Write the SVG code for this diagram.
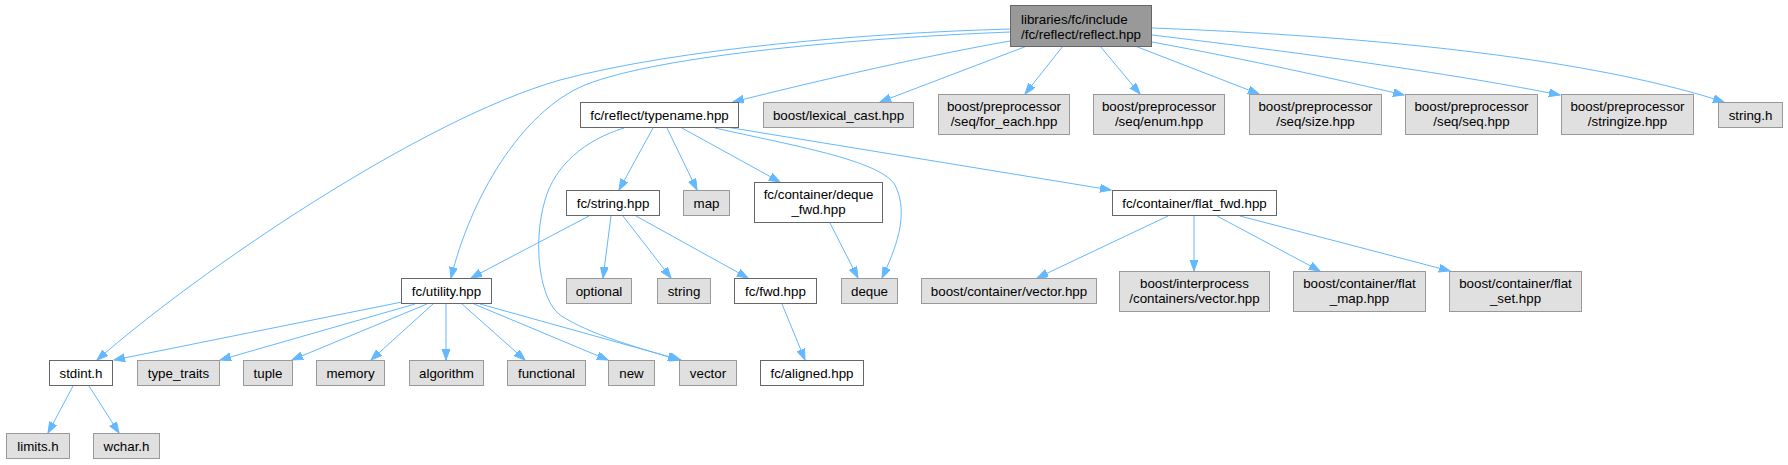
<svg xmlns="http://www.w3.org/2000/svg" width="1788" height="465" viewBox="0 0 1788 465">
<defs>
<marker id="ah" markerWidth="12" markerHeight="9" refX="11" refY="4" orient="auto" markerUnits="userSpaceOnUse">
<path d="M0,0 L11,4 L0,8 z" fill="#63B8FF" stroke="#63B8FF" stroke-width="1"/>
</marker>
<style>
.root{fill:#999999;stroke:#666666;stroke-width:1}
.int{fill:#FFFFFF;stroke:#666666;stroke-width:1}
.ext{fill:#E0E0E0;stroke:#999999;stroke-width:1}
text{font-family:"Liberation Sans",Arial,Helvetica,sans-serif;font-size:13.33px;fill:#000000;text-anchor:middle}
.l{text-anchor:start}
#edges path{fill:none;stroke:#63B8FF;stroke-width:1;marker-end:url(#ah)}
</style>
</defs>
<rect width="1788" height="465" fill="#FFFFFF"/>
<g id="edges">
<path d="M1010,29 C870,33 680,48 560,80 C420,120 200,270 97,360"/>
<path d="M1010,32 C860,38 660,55 585,85 C520,112 470,200 451,278"/>
<path d="M1010,41 C930,55 820,80 733,102"/>
<path d="M1027,46 L880,102"/>
<path d="M1063,46 L1025,94"/>
<path d="M1100,46 L1140,94"/>
<path d="M1135,46 L1259,94"/>
<path d="M1152,42 C1250,60 1340,80 1404,95"/>
<path d="M1152,35 C1320,55 1460,75 1560,95"/>
<path d="M1152,28 C1420,38 1610,65 1724,102"/>
<path d="M653,128 L619,190"/>
<path d="M667,128 L697,190"/>
<path d="M682,128 L780,182"/>
<path d="M715,128 C790,145 880,160 895,185 C910,215 895,250 882,278"/>
<path d="M726,127 L1111,190"/>
<path d="M624,128 C585,140 555,165 545,200 C532,245 540,300 560,315 C590,335 640,348 679,360"/>
<path d="M589,216 L471,278"/>
<path d="M611,216 L603,278"/>
<path d="M623,216 L671,278"/>
<path d="M636,216 L748,278"/>
<path d="M830,223 L858,278"/>
<path d="M782,304 L805,360"/>
<path d="M1168,216 L1037,278"/>
<path d="M1194,216 L1194,271"/>
<path d="M1217,216 L1320,271"/>
<path d="M1240,216 L1450,271"/>
<path d="M402,302 L114,360"/>
<path d="M415,304 L220,360"/>
<path d="M427,304 L292,360"/>
<path d="M433,304 L371,360"/>
<path d="M446,304 L446,360"/>
<path d="M462,304 L525,360"/>
<path d="M474,304 L608,360"/>
<path d="M480,304 L681,360"/>
<path d="M73,386 L48,433"/>
<path d="M89,386 L119,433"/>
</g>
<g id="n_root"><rect class="root" x="1010.5" y="5.5" width="141" height="41"/><text class="l" x="1021" y="23.5">libraries/fc/include</text><text class="l" x="1021" y="38.5">/fc/reflect/reflect.hpp</text></g>
<g id="n_typename"><rect class="int" x="580.5" y="102.5" width="158" height="25"/><text x="659.5" y="119.5">fc/reflect/typename.hpp</text></g>
<g id="n_lexical"><rect class="ext" x="763.5" y="102.5" width="150" height="25"/><text x="838.5" y="119.5">boost/lexical_cast.hpp</text></g>
<g id="n_foreach"><rect class="ext" x="938.5" y="94.5" width="131" height="40"/><text x="1004" y="111">boost/preprocessor</text><text x="1004" y="126">/seq/for_each.hpp</text></g>
<g id="n_enum"><rect class="ext" x="1093.5" y="94.5" width="131" height="40"/><text x="1159" y="111">boost/preprocessor</text><text x="1159" y="126">/seq/enum.hpp</text></g>
<g id="n_size"><rect class="ext" x="1249.5" y="94.5" width="132" height="40"/><text x="1315.5" y="111">boost/preprocessor</text><text x="1315.5" y="126">/seq/size.hpp</text></g>
<g id="n_seq"><rect class="ext" x="1405.5" y="94.5" width="132" height="40"/><text x="1471.5" y="111">boost/preprocessor</text><text x="1471.5" y="126">/seq/seq.hpp</text></g>
<g id="n_stringize"><rect class="ext" x="1561.5" y="94.5" width="132" height="40"/><text x="1627.5" y="111">boost/preprocessor</text><text x="1627.5" y="126">/stringize.hpp</text></g>
<g id="n_stringh"><rect class="ext" x="1718.5" y="102.5" width="64" height="25"/><text x="1750.5" y="119.5">string.h</text></g>
<g id="n_stringhpp"><rect class="int" x="566.5" y="190.5" width="93" height="25"/><text x="613" y="207.5">fc/string.hpp</text></g>
<g id="n_map"><rect class="ext" x="683.5" y="190.5" width="46" height="25"/><text x="706.5" y="207.5">map</text></g>
<g id="n_dequefwd"><rect class="int" x="754.5" y="182.5" width="128" height="40"/><text x="818.5" y="199">fc/container/deque</text><text x="818.5" y="214">_fwd.hpp</text></g>
<g id="n_flatfwd"><rect class="int" x="1112.5" y="190.5" width="164" height="25"/><text x="1194.5" y="207.5">fc/container/flat_fwd.hpp</text></g>
<g id="n_utility"><rect class="int" x="401.5" y="278.5" width="90" height="25"/><text x="446.5" y="295.5">fc/utility.hpp</text></g>
<g id="n_optional"><rect class="ext" x="566.5" y="278.5" width="65" height="25"/><text x="599" y="295.5">optional</text></g>
<g id="n_string"><rect class="ext" x="657.5" y="278.5" width="53" height="25"/><text x="684" y="295.5">string</text></g>
<g id="n_fwd"><rect class="int" x="734.5" y="278.5" width="82" height="25"/><text x="775.5" y="295.5">fc/fwd.hpp</text></g>
<g id="n_deque"><rect class="ext" x="841.5" y="278.5" width="56" height="25"/><text x="869.5" y="295.5">deque</text></g>
<g id="n_bcvector"><rect class="ext" x="921.5" y="278.5" width="175" height="25"/><text x="1009" y="295.5">boost/container/vector.hpp</text></g>
<g id="n_interprocess"><rect class="ext" x="1119.5" y="271.5" width="150" height="40"/><text x="1194.5" y="288">boost/interprocess</text><text x="1194.5" y="303">/containers/vector.hpp</text></g>
<g id="n_flatmap"><rect class="ext" x="1293.5" y="271.5" width="132" height="40"/><text x="1359.5" y="288">boost/container/flat</text><text x="1359.5" y="303">_map.hpp</text></g>
<g id="n_flatset"><rect class="ext" x="1449.5" y="271.5" width="132" height="40"/><text x="1515.5" y="288">boost/container/flat</text><text x="1515.5" y="303">_set.hpp</text></g>
<g id="n_stdint"><rect class="int" x="49.5" y="360.5" width="63" height="25"/><text x="81" y="377.5">stdint.h</text></g>
<g id="n_typetraits"><rect class="ext" x="137.5" y="360.5" width="82" height="25"/><text x="178.5" y="377.5">type_traits</text></g>
<g id="n_tuple"><rect class="ext" x="243.5" y="360.5" width="49" height="25"/><text x="268" y="377.5">tuple</text></g>
<g id="n_memory"><rect class="ext" x="316.5" y="360.5" width="68" height="25"/><text x="350.5" y="377.5">memory</text></g>
<g id="n_algorithm"><rect class="ext" x="409.5" y="360.5" width="74" height="25"/><text x="446.5" y="377.5">algorithm</text></g>
<g id="n_functional"><rect class="ext" x="507.5" y="360.5" width="78" height="25"/><text x="546.5" y="377.5">functional</text></g>
<g id="n_new"><rect class="ext" x="608.5" y="360.5" width="46" height="25"/><text x="631.5" y="377.5">new</text></g>
<g id="n_vector"><rect class="ext" x="679.5" y="360.5" width="57" height="25"/><text x="708" y="377.5">vector</text></g>
<g id="n_aligned"><rect class="int" x="760.5" y="360.5" width="103" height="25"/><text x="812" y="377.5">fc/aligned.hpp</text></g>
<g id="n_limits"><rect class="ext" x="6.5" y="433.5" width="63" height="25"/><text x="38" y="450.5">limits.h</text></g>
<g id="n_wchar"><rect class="ext" x="93.5" y="433.5" width="66" height="25"/><text x="126.5" y="450.5">wchar.h</text></g>
</svg>
